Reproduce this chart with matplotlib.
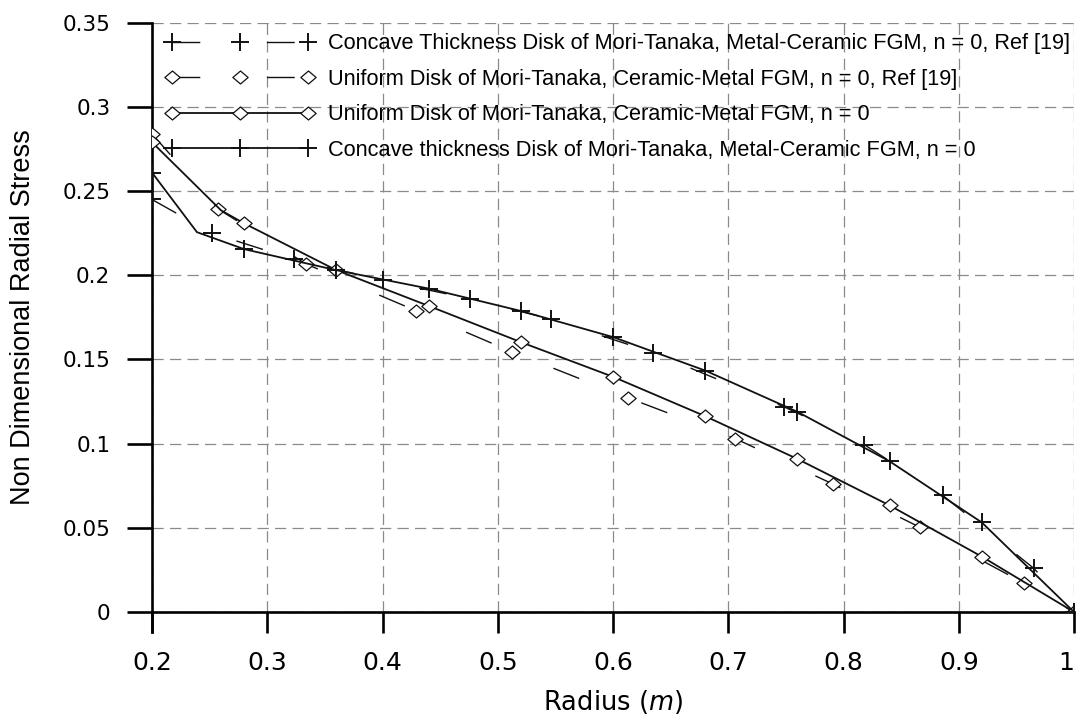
import matplotlib
matplotlib.use("Agg")
import matplotlib.pyplot as plt
from matplotlib.path import Path

plt.rcParams['font.family'] = ['Liberation Sans', 'DejaVu Sans']
plt.rcParams['mathtext.fontset'] = 'custom'
plt.rcParams['mathtext.it'] = 'DejaVu Sans:italic'
plt.rcParams['mathtext.rm'] = 'DejaVu Sans'

# ---- data ----
# Ref [19] concave thickness disk, Metal-Ceramic FGM (dashed, '+')
a_x = [0.2, 0.252, 0.323, 0.400, 0.476, 0.546, 0.635, 0.748, 0.818, 0.886, 0.965, 1.0]
a_y = [0.245, 0.225, 0.2095, 0.197, 0.186, 0.174, 0.154, 0.122, 0.0994, 0.0693, 0.026, 0.0]

# Ref [19] uniform disk, Ceramic-Metal FGM (dashed, diamonds)
b_x = [0.2, 0.2575, 0.334, 0.4295, 0.5127, 0.6132, 0.706, 0.7908, 0.8666, 0.9567, 1.0]
b_y = [0.284, 0.2393, 0.2066, 0.1788, 0.1544, 0.1272, 0.103, 0.076, 0.0502, 0.0171, 0.0]

# Present uniform disk, Ceramic-Metal FGM (solid, diamonds)
c_x = [0.2, 0.26, 0.28, 0.36, 0.44, 0.52, 0.60, 0.68, 0.76, 0.84, 0.92, 1.0]
c_y = [0.279, 0.2385, 0.2308, 0.203, 0.1818, 0.1603, 0.1397, 0.1163, 0.0909, 0.0633, 0.0329, 0.0]
c_marks = [0, 2, 3, 4, 5, 6, 7, 8, 9, 10, 11]

# Present concave thickness disk, Metal-Ceramic FGM (solid, '+')
d_x = [0.2, 0.239, 0.28, 0.36, 0.44, 0.52, 0.60, 0.68, 0.76, 0.84, 0.92, 1.0]
d_y = [0.261, 0.2256, 0.2155, 0.203, 0.1921, 0.1788, 0.1633, 0.1434, 0.1189, 0.0895, 0.0532, 0.0]
d_marks = [0, 2, 3, 4, 5, 6, 7, 8, 9, 10, 11]

labels = [
    "Concave Thickness Disk of Mori-Tanaka, Metal-Ceramic FGM, n = 0, Ref [19]",
    "Uniform Disk of Mori-Tanaka, Ceramic-Metal FGM, n = 0, Ref [19]",
    "Uniform Disk of Mori-Tanaka, Ceramic-Metal FGM, n = 0",
    "Concave thickness Disk of Mori-Tanaka, Metal-Ceramic FGM, n = 0",
]

x_ticks = [0.2, 0.3, 0.4, 0.5, 0.6, 0.7, 0.8, 0.9, 1.0]
x_ticklabels = ["0.2", "0.3", "0.4", "0.5", "0.6", "0.7", "0.8", "0.9", "1"]
y_ticks = [0, 0.05, 0.1, 0.15, 0.2, 0.25, 0.3, 0.35]
y_ticklabels = ["0", "0.05", "0.1", "0.15", "0.2", "0.25", "0.3", "0.35"]

# ---- figure ----
fig = plt.figure(figsize=(10.79, 7.17), dpi=100)
ax = fig.add_axes([0.14087, 0.14644, 0.85450, 0.82190])

diamond = Path([(-1, 0), (0, 0.85), (1, 0), (0, -0.85), (-1, 0)],
               [Path.MOVETO, Path.LINETO, Path.LINETO, Path.LINETO, Path.CLOSEPOLY])

ink = '#111111'
dash_ls = (0, (20, 48))

ax.plot(a_x, a_y, color=ink, lw=1.0, ls=dash_ls, marker='+', ms=13, mew=1.4,
        label=labels[0], zorder=3)
ax.plot(b_x, b_y, color=ink, lw=1.0, ls=dash_ls, marker=diamond, ms=11, mew=0.9,
        mfc='white', mec=ink, label=labels[1], zorder=3)
ax.plot(c_x, c_y, color=ink, lw=1.3, ls='-', marker=diamond, ms=11, mew=0.9,
        mfc='white', mec=ink, markevery=c_marks, label=labels[2], zorder=4)
ax.plot(d_x, d_y, color=ink, lw=1.3, ls='-', marker='+', ms=13, mew=1.4,
        markevery=d_marks, label=labels[3], zorder=4)

ax.set_xlim(0.2, 1.0)
ax.set_ylim(0, 0.35)
ax.set_xticks(x_ticks)
ax.set_xticklabels(x_ticklabels, fontfamily='DejaVu Sans')
ax.get_xticklabels()[-1].set_ha('right')
ax.set_yticks(y_ticks)
ax.set_yticklabels(y_ticklabels, fontfamily='DejaVu Sans')

ax.grid(True, color='#8a8a8a', lw=0.9, ls=(0, (9, 5)))
ax.set_axisbelow(True)

for s in ['top', 'right']:
    ax.spines[s].set_visible(False)
for s in ['left', 'bottom']:
    ax.spines[s].set_linewidth(1.9)
    ax.spines[s].set_color('black')
ax.spines['left'].set_bounds(-0.012, 0.35)

ax.tick_params(axis='y', direction='out', length=18, width=1.9, labelsize=15.5, pad=12)
ax.tick_params(axis='x', direction='out', length=15, width=1.9, labelsize=18, pad=13)

ax.set_xlabel("Radius ($\\mathit{m}$)", fontsize=18.5, fontfamily='DejaVu Sans')
ax.xaxis.set_label_coords(0.5, -0.153)
ax.xaxis.label.set_va('center')
ax.set_ylabel("Non Dimensional Radial Stress", fontsize=19.5)
ax.yaxis.set_label_coords(-0.140, 0.5)
ax.yaxis.label.set_va('center')

leg = ax.legend(loc='upper left', bbox_to_anchor=(0.0146, 0.982), frameon=False,
                fontsize=15.7, handlelength=6.84, handletextpad=0.61, numpoints=3,
                labelspacing=0.665, borderpad=0, borderaxespad=0)

fig.savefig("out.png", dpi=100)
